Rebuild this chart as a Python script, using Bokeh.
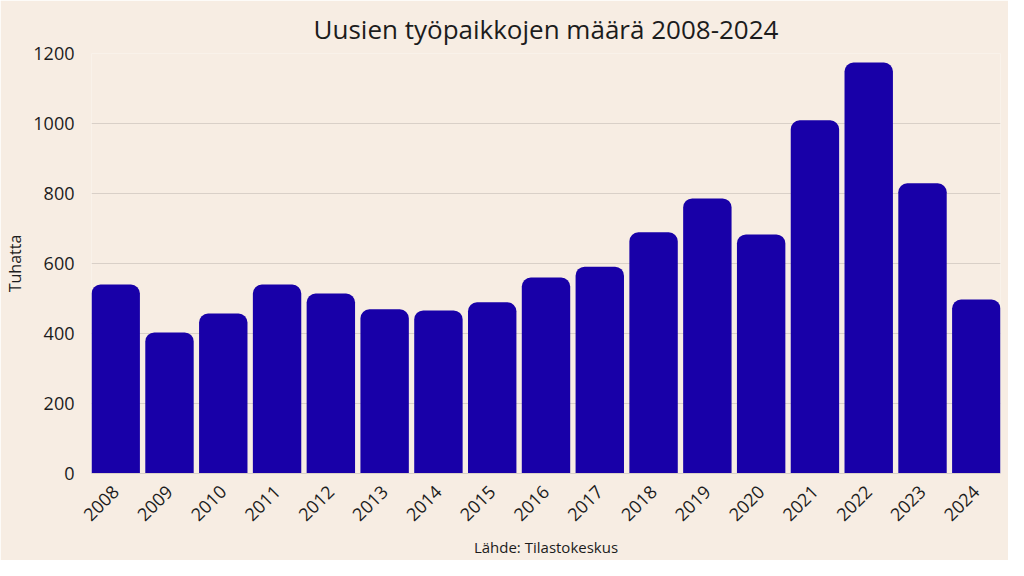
from bokeh.plotting import figure
from bokeh.models import Range1d, FixedTicker, ColumnDataSource
from bokeh.embed import file_html
from bokeh.resources import INLINE

years = [2008, 2009, 2010, 2011, 2012, 2013, 2014, 2015, 2016, 2017,
         2018, 2019, 2020, 2021, 2022, 2023, 2024]
values = [540, 403, 457, 540, 514, 469, 466, 489, 560, 591,
          689, 786, 683, 1009, 1174, 829, 497]
y_ticks = [0, 200, 400, 600, 800, 1000, 1200]

title_text = "Uusien työpaikkojen määrä 2008-2024"
y_label = "Tuhatta"
source_text = "Lähde: Tilastokeskus"

BG = "#f7ede3"
BAR = "#1800a8"
TXT = "#1c1c1c"
GRID = "#d9d0c8"
FONT = "Open Sans"

src = ColumnDataSource(dict(x=years, top=values))

p = figure(width=1008, height=560, output_backend="svg", toolbar_location=None,
           x_range=Range1d(years[0] - 0.45, years[-1] + 0.45),
           y_range=Range1d(0, 1200),
           min_border_left=91, min_border_right=8, min_border_top=53, min_border_bottom=87)

p.background_fill_color = BG
p.border_fill_color = BG
p.outline_line_color = None

p.title.text = title_text
p.title.align = "center"
p.title.text_font = FONT
p.title.text_font_size = "26px"
p.title.text_font_style = "normal"
p.title.text_color = TXT
p.title.standoff = 14

p.vbar(x="x", top="top", width=0.9, source=src, fill_color=BAR, line_color=None,
       border_radius=(9, 9, 0, 0))

p.xgrid.grid_line_color = None
p.ygrid.grid_line_color = GRID
p.ygrid.grid_line_width = 1
p.ygrid.ticker = FixedTicker(ticks=y_ticks)

p.yaxis.ticker = FixedTicker(ticks=y_ticks)
p.yaxis.axis_line_color = None
p.yaxis.major_tick_line_color = None
p.yaxis.minor_tick_line_color = None
p.yaxis.major_label_text_font = FONT
p.yaxis.major_label_text_font_size = "18px"
p.yaxis.major_label_text_color = TXT
p.yaxis.major_label_standoff = 11
p.yaxis.axis_label = y_label
p.yaxis.axis_label_text_font = FONT
p.yaxis.axis_label_text_font_size = "16px"
p.yaxis.axis_label_text_font_style = "normal"
p.yaxis.axis_label_text_color = TXT
p.yaxis.axis_label_standoff = 4

p.xaxis.ticker = FixedTicker(ticks=years)
p.xaxis.axis_line_color = GRID
p.xaxis.major_tick_line_color = None
p.xaxis.minor_tick_line_color = None
p.xaxis.major_label_orientation = 0.785398
p.xaxis.major_label_text_font = FONT
p.xaxis.major_label_text_font_size = "18px"
p.xaxis.major_label_text_color = TXT
p.xaxis.major_label_standoff = 9
p.xaxis.axis_label = source_text
p.xaxis.axis_label_text_font = FONT
p.xaxis.axis_label_text_font_size = "15px"
p.xaxis.axis_label_text_font_style = "normal"
p.xaxis.axis_label_text_color = TXT
p.xaxis.axis_label_standoff = 7

open("out.html", "w").write(file_html(p, INLINE))
